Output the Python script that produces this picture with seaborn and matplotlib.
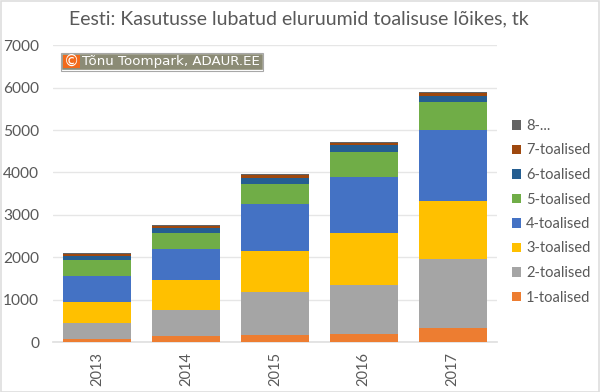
import matplotlib
matplotlib.use("Agg")
import matplotlib.pyplot as plt
import seaborn as sns
import numpy as np
from matplotlib.patches import Rectangle

years = ["2013", "2014", "2015", "2016", "2017"]
names = ["1-toalised", "2-toalised", "3-toalised", "4-toalised",
         "5-toalised", "6-toalised", "7-toalised", "8-..."]
colors = ["#ED7D31", "#A5A5A5", "#FFC000", "#4472C4",
          "#70AD47", "#255E91", "#9E480E", "#636363"]
s1 = [80, 141, 157, 196, 330]
s2 = [368, 622, 1022, 1140, 1628]
s3 = [503, 691, 967, 1242, 1367]
s4 = [613, 746, 1116, 1314, 1675]
s5 = [370, 363, 457, 589, 660]
s6 = [102, 137, 156, 165, 149]
s7 = [39, 40, 64, 54, 56]
s8 = [15, 20, 23, 30, 23]
series = [s1, s2, s3, s4, s5, s6, s7, s8]

sns.set_theme(style="white")
plt.rcParams['font.family'] = ['Lato', 'DejaVu Sans']
TXT = "#595959"

fig = plt.figure(figsize=(6, 3.92), dpi=100)
W, H = 600, 392
ax = fig.add_axes([53/W, 1-342/H, 444/W, (342-45.3)/H])

bottom = np.zeros(len(years))
for name, vals, col in zip(names, series, colors):
    sns.barplot(x=years, y=vals, bottom=bottom, color=col, saturation=1,
                width=0.766, label=name, ax=ax, legend=False, zorder=3,
                errorbar=None, linewidth=0)
    bottom = bottom + np.array(vals)

ax.set_ylim(0, 7000)
ax.set_xlim(-0.5, 4.5)
ax.set_yticks(range(0, 7001, 1000))
ax.yaxis.grid(True, color="#E6E6E6", lw=1, zorder=0)
ax.set_axisbelow(True)
ax.set_xlabel("")
ax.set_ylabel("")
for sp in ["top", "right", "left"]:
    ax.spines[sp].set_visible(False)
ax.spines["bottom"].set_color("#E0E0E0")
ax.tick_params(axis="y", length=0, pad=10, labelsize=11.2, labelcolor=TXT)
ax.tick_params(axis="x", length=0, pad=7, labelsize=10.5, labelcolor=TXT, labelrotation=90)

h, l = ax.get_legend_handles_labels()
leg = fig.legend(h[::-1], l[::-1], loc="upper left", bbox_to_anchor=(512/W, 1-119/H),
                 frameon=False, fontsize=10.5, labelcolor=TXT, handlelength=0.62,
                 handleheight=0.62, handletextpad=0.35, labelspacing=0.72,
                 borderpad=0, borderaxespad=0)

fig.text(299/W, 1-19/H, "Eesti: Kasutusse lubatud eluruumid toalisuse lõikes, tk",
         ha="center", va="center", fontsize=14, color=TXT)

# watermark
fig.add_artist(Rectangle((61/W, 1-70/H), 202/W, 17/H, transform=fig.transFigure,
                         fc="#8B8B75", ec="#FFFFFF", lw=1, zorder=10))
fig.add_artist(Rectangle((60.5/W, 1-70.5/H), 202/W, 18/H, transform=fig.transFigure,
                         fc="none", ec="#A8A8A8", lw=0.8, zorder=10))
fig.add_artist(Rectangle((63/W, 1-68/H), 17/W, 13/H, transform=fig.transFigure,
                         fc="#F26A1B", ec="none", zorder=11))
fig.text(71.5/W, 1-61.5/H, "©", ha="center", va="center", fontsize=11, color="white",
         family="DejaVu Sans", zorder=12)
fig.text(82/W, 1-61.5/H, "Tõnu Toompark, ADAUR.EE", ha="left", va="center", fontsize=9.6,
         color="white", family="DejaVu Sans", zorder=12)

# outer frame
fig.add_artist(Rectangle((0.5/W, 0.5/H), 598/W, 390.5/H, transform=fig.transFigure,
                         fc="none", ec="#DEDEDE", lw=1.2, zorder=20))
fig.savefig("out.png", dpi=100, facecolor="white")
